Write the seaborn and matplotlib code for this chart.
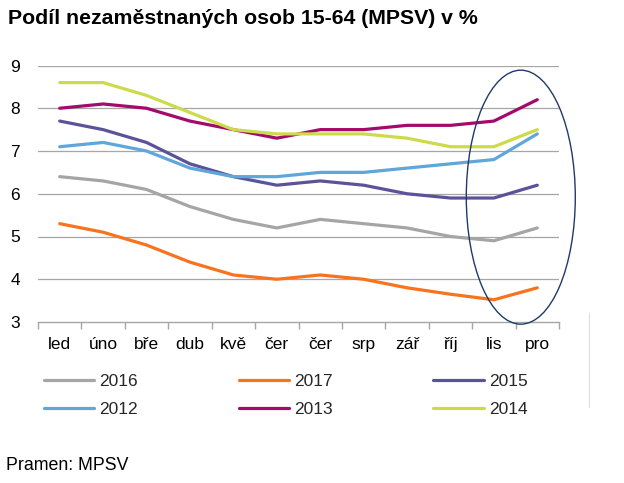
import matplotlib
matplotlib.use("Agg")
import matplotlib.pyplot as plt
import seaborn as sns
import pandas as pd
import numpy as np
from matplotlib.patches import Ellipse
from matplotlib.lines import Line2D

months = ["led", "úno", "bře", "dub", "kvě", "čer", "čer", "srp", "zář", "říj", "lis", "pro"]
y2016 = [6.4, 6.3, 6.1, 5.7, 5.4, 5.2, 5.4, 5.3, 5.2, 5.0, 4.9, 5.2]
y2017 = [5.3, 5.1, 4.8, 4.4, 4.1, 4.0, 4.1, 4.0, 3.8, 3.65, 3.52, 3.8]
y2015 = [7.7, 7.5, 7.2, 6.7, 6.4, 6.2, 6.3, 6.2, 6.0, 5.9, 5.9, 6.2]
y2012 = [7.1, 7.2, 7.0, 6.6, 6.4, 6.4, 6.5, 6.5, 6.6, 6.7, 6.8, 7.4]
y2013 = [8.0, 8.1, 8.0, 7.7, 7.5, 7.3, 7.5, 7.5, 7.6, 7.6, 7.7, 8.2]
y2014 = [8.6, 8.6, 8.3, 7.9, 7.5, 7.4, 7.4, 7.4, 7.3, 7.1, 7.1, 7.5]
series_names = ["2016", "2017", "2015", "2012", "2013", "2014"]
series_vals = [y2016, y2017, y2015, y2012, y2013, y2014]
colors = ["#A5A5A5", "#F7731E", "#5A5399", "#5FA6DA", "#A30A6B", "#CDDB4A"]

rows = []
for name, vals in zip(series_names, series_vals):
    for i, v in enumerate(vals):
        rows.append({"pos": i, "value": v, "year": name})
df = pd.DataFrame(rows)

sns.set_theme(style="white")
plt.rcParams["font.family"] = ["Liberation Sans", "DejaVu Sans"]

fig = plt.figure(figsize=(6.24, 4.83), dpi=100)
W, H = 624, 483
ax = fig.add_axes([38 / W, 1 - 322 / H, (559 - 38) / W, (322 - 65.5) / H])

sns.lineplot(data=df, x="pos", y="value", hue="year", hue_order=series_names,
             palette=colors, linewidth=2.3, ax=ax, legend=False, sort=False)

ax.set_xlim(-0.5, 11.5)
ax.set_ylim(3, 9)
ax.set_yticks(range(3, 10))
ax.set_xticks(range(12))
ax.set_xticklabels(months)
ax.set_xlabel("")
ax.set_ylabel("")
for yv in range(4, 10):
    ax.axhline(yv, color="#A6A6A6", lw=0.9, zorder=0)
for s in ["top", "right", "left"]:
    ax.spines[s].set_visible(False)
ax.spines["bottom"].set_color("#A6A6A6")
ax.spines["bottom"].set_linewidth(1.0)
ax.set_xticks(np.arange(-0.5, 12, 1), minor=True)
ax.tick_params(axis="x", which="minor", length=5, color="#A6A6A6", width=1.0, bottom=True)
ax.tick_params(axis="x", which="major", length=0, labelsize=12.5, pad=11, colors="black")
ax.tick_params(axis="y", length=0, labelsize=12.5, pad=13, colors="black")

# highlight ellipse
ell = Ellipse((10.62, 5.92), width=109 / (521 / 12), height=254 / (256.5 / 6),
              fill=False, edgecolor="#1F3A68", lw=1.0, clip_on=False, zorder=5)
ax.add_patch(ell)

fig.text(8 / W, 1 - 18 / H, "Podíl nezaměstnaných osob 15-64 (MPSV) v %", fontsize=15.3,
         fontweight="bold", va="center", ha="left", color="black")
fig.text(6 / W, 1 - 465 / H, "Pramen: MPSV", fontsize=12.8, va="center", ha="left", color="black")

# legend: matplotlib fills column-wise, reorder so rows read 2016 2017 2015 / 2012 2013 2014
order = [0, 3, 1, 4, 2, 5]
handles = [Line2D([0], [0], color=colors[i], lw=2.3) for i in order]
labels = [series_names[i] for i in order]
leg = fig.legend(handles, labels, ncol=3, loc="upper left",
                 bbox_to_anchor=(28 / W, 1 - 358 / H), frameon=False, fontsize=12.5,
                 handlelength=2.9, handletextpad=0.3, columnspacing=5.8, labelspacing=0.75)

fig.add_artist(Line2D([589 / W, 589 / W], [1 - 313 / H, 1 - 407 / H], color="#DDDDDD", lw=0.8))

fig.savefig("out.png", dpi=100)
